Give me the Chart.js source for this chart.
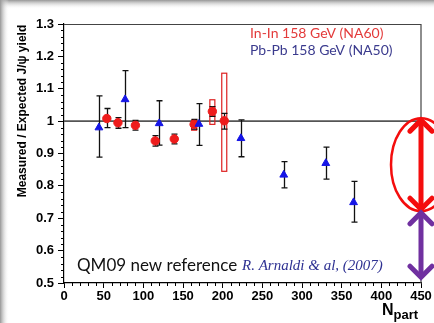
<!DOCTYPE html>
<html><head><meta charset="utf-8">
<script src="https://cdn.jsdelivr.net/npm/chart.js@4/dist/chart.umd.min.js"></script>
<style>html,body{margin:0;padding:0;background:#fff;overflow:hidden}canvas{display:block}</style>
</head><body>
<canvas id="c" width="434" height="323"></canvas>
<script>
// NA50 Pb-Pb 158 GeV
const naN  = [44, 77, 120, 170, 223, 277, 330, 365];
const naY  = [0.980, 1.067, 0.993, 0.991, 0.947, 0.834, 0.870, 0.749];
const naHi = [1.078, 1.156, 1.063, 1.054, 1.004, 0.875, 0.920, 0.814];
const naLo = [0.889, 0.980, 0.926, 0.925, 0.890, 0.794, 0.821, 0.688];
// NA60 In-In 158 GeV
const inN  = [54, 68, 90, 115, 139, 164, 187, 202];
const inY  = [1.008, 0.995, 0.987, 0.939, 0.945, 0.990, 1.030, 1.001];
const inHi = [1.039, 1.011, 1.002, 0.955, 0.960, 1.005, 1.045, 1.024];
const inLo = [0.980, 0.978, 0.972, 0.923, 0.930, 0.975, 1.015, 0.975];
const sysHi = [null, null, null, null, null, 1.003, 1.066, 1.148];
const sysLo = [null, null, null, null, null, 0.972, 0.990, 0.845];
// axis ticks
const xTicks = [0, 50, 100, 150, 200, 250, 300, 350, 400, 450];
const yTicks = [0.5, 0.6, 0.7, 0.8, 0.9, 1.0, 1.1, 1.2, 1.3];
// annotation levels (arrows at N=450)
const arrowX = 450;
const redArrow = [1.0, 0.725];
const purpleArrow = [0.72, 0.515];
const texts = {
  leg1: "In-In 158 GeV (NA60)",
  leg2: "Pb-Pb 158 GeV (NA50)",
  note: "QM09 new reference",
  cite: "R. Arnaldi & al, (2007)",
  ytitle: "Measured / Expected J/\u03C8 yield",
  xtitle: "N",
  xsub: "part"
};

const FONT = '"Liberation Sans", Arial, sans-serif';

const bgPlugin = {
  id: 'bg',
  beforeDraw(chart) {
    const ctx = chart.ctx;
    ctx.save();
    ctx.fillStyle = '#fff';
    ctx.fillRect(0, 0, chart.width, chart.height);
    let g = ctx.createLinearGradient(0, 0, 0, 9);
    g.addColorStop(0, 'rgba(150,150,150,1)');
    g.addColorStop(1, 'rgba(255,255,255,0)');
    ctx.fillStyle = g; ctx.fillRect(0, 0, chart.width, 9);
    g = ctx.createLinearGradient(0, 0, 9, 0);
    g.addColorStop(0, 'rgba(150,150,150,1)');
    g.addColorStop(1, 'rgba(255,255,255,0)');
    ctx.fillStyle = g; ctx.fillRect(0, 0, 9, chart.height);
    ctx.restore();
  }
};

function arrowHead(ctx, x, y, dir, size) {
  ctx.beginPath();
  ctx.moveTo(x - size, y + dir * size);
  ctx.lineTo(x, y);
  ctx.lineTo(x + size, y + dir * size);
  ctx.stroke();
}

const decoPlugin = {
  id: 'deco',
  beforeDatasetsDraw(chart) {
    const ctx = chart.ctx, xs = chart.scales.x, ys = chart.scales.y, a = chart.chartArea;
    ctx.save();
    ctx.strokeStyle = '#444'; ctx.lineWidth = 1.2;
    ctx.beginPath();
    ctx.moveTo(a.left, a.top + 0.5); ctx.lineTo(a.right, a.top + 0.5); ctx.lineTo(a.right, a.bottom);
    ctx.stroke();
    ctx.strokeStyle = '#555'; ctx.lineWidth = 1.6;
    ctx.beginPath();
    ctx.moveTo(a.left, ys.getPixelForValue(1)); ctx.lineTo(a.right, ys.getPixelForValue(1));
    ctx.stroke();
    ctx.strokeStyle = '#000'; ctx.lineWidth = 1;
    ctx.beginPath();
    for (let v = 0; v <= 450; v += 10) {
      if (v % 50 === 0) continue;
      const px = Math.round(xs.getPixelForValue(v)) + 0.5;
      ctx.moveTo(px, a.bottom); ctx.lineTo(px, a.bottom + 3);
    }
    for (let i = 25; i <= 65; i++) {
      if (i % 5 === 0) continue;
      const py = Math.round(ys.getPixelForValue(i / 50)) + 0.5;
      ctx.moveTo(a.left - 3, py); ctx.lineTo(a.left, py);
    }
    ctx.stroke();
    ctx.strokeStyle = '#dd2020'; ctx.lineWidth = 1.2;
    inN.forEach((n, i) => {
      if (sysHi[i] == null) return;
      const px = xs.getPixelForValue(n);
      const t = ys.getPixelForValue(sysHi[i]), b = ys.getPixelForValue(sysLo[i]);
      ctx.strokeRect(px - 2.5, t, 5, b - t);
    });
    ctx.strokeStyle = '#111'; ctx.lineWidth = 1.3;
    const bars = (N, H, L, cap) => {
      N.forEach((n, i) => {
        const px = Math.round(xs.getPixelForValue(n)) + 0.5;
        const t = ys.getPixelForValue(H[i]), b = ys.getPixelForValue(L[i]);
        ctx.beginPath();
        ctx.moveTo(px, t); ctx.lineTo(px, b);
        ctx.moveTo(px - cap, t); ctx.lineTo(px + cap, t);
        ctx.moveTo(px - cap, b); ctx.lineTo(px + cap, b);
        ctx.stroke();
      });
    };
    bars(naN, naHi, naLo, 3);
    bars(inN, inHi, inLo, 3);
    ctx.restore();
  },
  afterDraw(chart) {
    const ctx = chart.ctx, xs = chart.scales.x, ys = chart.scales.y;
    ctx.save();
    ctx.textBaseline = 'alphabetic';
    ctx.font = '14px Lato, "Open Sans", sans-serif';
    ctx.fillStyle = '#e33a3a';
    ctx.fillText(texts.leg1, 250, 38);
    ctx.fillStyle = '#3b3b8e';
    ctx.fillText(texts.leg2, 250, 55);
    ctx.fillStyle = '#111';
    ctx.font = '17px Lato, "Open Sans", sans-serif';
    ctx.fillText(texts.note, 77, 271);
    ctx.fillStyle = '#2e3192';
    ctx.font = 'italic 15px "Liberation Serif", "DejaVu Serif", serif';
    ctx.fillText(texts.cite, 242, 270);
    ctx.fillStyle = '#000';
    ctx.font = 'bold 12px ' + FONT;
    ctx.save();
    ctx.translate(26, 111);
    ctx.rotate(-Math.PI / 2);
    ctx.textAlign = 'center';
    ctx.fillText(texts.ytitle, 0, 0);
    ctx.restore();
    ctx.font = 'bold 16px ' + FONT;
    ctx.fillText(texts.xtitle, 382, 315);
    const nw = ctx.measureText(texts.xtitle).width;
    ctx.font = 'bold 13px ' + FONT;
    ctx.fillText(texts.xsub, 382 + nw, 319);
    const ax = xs.getPixelForValue(arrowX);
    const r1 = ys.getPixelForValue(redArrow[0]) - 2, r2 = ys.getPixelForValue(redArrow[1]);
    ctx.lineCap = 'round'; ctx.lineJoin = 'miter';
    ctx.strokeStyle = '#f40d0d'; ctx.lineWidth = 2.5;
    ctx.beginPath();
    ctx.ellipse(ax, (r1 + r2) / 2, 30, (r2 - r1) / 2 + 1, 0, 0, Math.PI * 2);
    ctx.stroke();
    ctx.lineWidth = 5;
    ctx.beginPath(); ctx.moveTo(ax, r1 + 3); ctx.lineTo(ax, r2 - 3); ctx.stroke();
    arrowHead(ctx, ax, r1 + 1, 1, 11);
    arrowHead(ctx, ax, r2 - 1, -1, 11);
    const p1 = ys.getPixelForValue(purpleArrow[0]), p2 = ys.getPixelForValue(purpleArrow[1]);
    ctx.strokeStyle = '#7030a0';
    ctx.beginPath(); ctx.moveTo(ax, p1 + 3); ctx.lineTo(ax, p2 - 3); ctx.stroke();
    arrowHead(ctx, ax, p1 + 1, 1, 11);
    arrowHead(ctx, ax, p2 - 1, -1, 11);
    ctx.restore();
  }
};

const fmt = v => String(parseFloat(Number(v).toFixed(1)));

new Chart(document.getElementById('c'), {
  type: 'scatter',
  data: {
    datasets: [
      {
        label: texts.leg2,
        data: naN.map((n, i) => ({ x: n, y: naY[i] })),
        pointStyle: 'triangle', pointRadius: 4.5,
        backgroundColor: '#1515e6', borderColor: '#1515e6', borderWidth: 1
      },
      {
        label: texts.leg1,
        data: inN.map((n, i) => ({ x: n, y: inY[i] })),
        pointStyle: 'circle', pointRadius: 4.2,
        backgroundColor: '#ee1c1c', borderColor: '#ee1c1c', borderWidth: 1
      }
    ]
  },
  options: {
    responsive: false, animation: false, devicePixelRatio: 1,
    layout: { padding: { top: 24, right: 13, left: 0, bottom: 0 } },
    plugins: { legend: { display: false }, tooltip: { enabled: false } },
    scales: {
      x: {
        type: 'linear', min: 0, max: 450,
        afterBuildTicks: s => { s.ticks = xTicks.map(v => ({ value: v })); },
        afterFit: s => { s.height = 40; },
        ticks: { color: '#000', font: { family: FONT, size: 13, weight: 'bold' }, padding: 1, maxRotation: 0, autoSkip: false },
        grid: { drawOnChartArea: false, drawTicks: true, tickLength: 5, color: '#000', lineWidth: 1 },
        border: { color: '#000', width: 1.2 }
      },
      y: {
        type: 'linear', min: 0.5, max: 1.3,
        afterBuildTicks: s => { s.ticks = yTicks.map(v => ({ value: v })); },
        afterFit: s => { s.width = 64; },
        ticks: { color: '#000', font: { family: FONT, size: 13, weight: 'bold' }, padding: 4, callback: fmt, autoSkip: false },
        grid: { drawOnChartArea: false, drawTicks: true, tickLength: 6, color: '#000', lineWidth: 1 },
        border: { color: '#000', width: 1.2 }
      }
    }
  },
  plugins: [bgPlugin, decoPlugin]
});
</script>
</body></html>
